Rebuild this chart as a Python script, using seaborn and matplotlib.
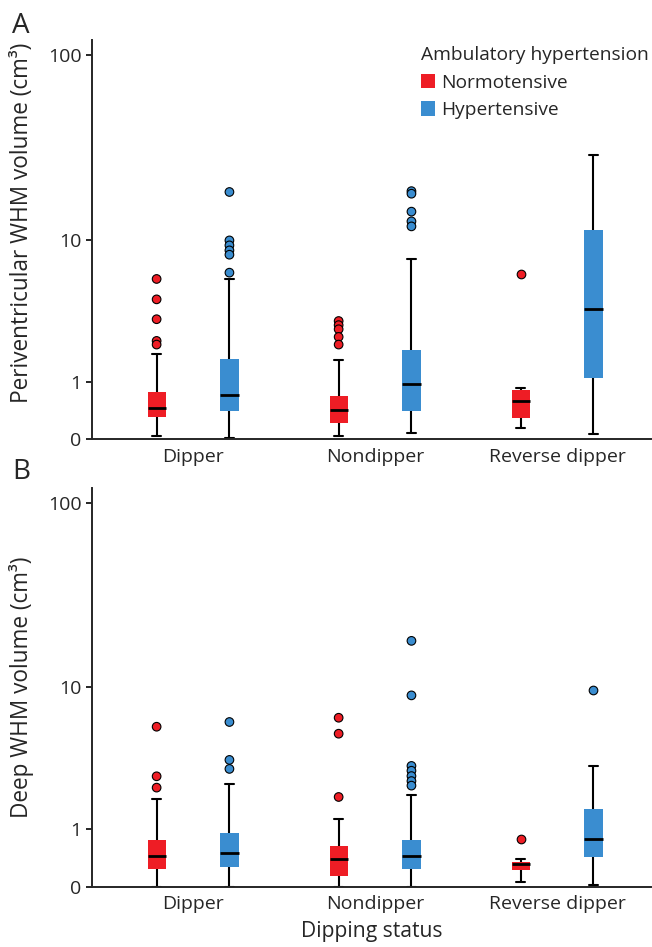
import numpy as np
import pandas as pd
import matplotlib
matplotlib.use("Agg")
import matplotlib.pyplot as plt
from matplotlib.patches import Patch
import seaborn as sns

categories = ["Dipper", "Nondipper", "Reverse dipper"]
groups = ["Normotensive", "Hypertensive"]
palette = ["#EE1D25", "#3A8DD0"]
tick_values = [0, 1, 10, 100]
tick_labels = ["0", "1", "10", "100"]

# Panel A: periventricular WHM volume (cm3)
# five-number summaries: low whisker, Q1, median, Q3, high whisker
pv_dipper_norm = [0.04, 0.31, 0.46, 0.77, 1.79]
pv_dipper_hyp = [0.01, 0.40, 0.71, 1.63, 5.85]
pv_nondipper_norm = [0.04, 0.22, 0.43, 0.69, 1.58]
pv_nondipper_hyp = [0.08, 0.40, 0.95, 1.93, 7.76]
pv_reverse_norm = [0.145, 0.29, 0.59, 0.81, 0.86]
pv_reverse_hyp = [0.07, 1.09, 3.81, 11.3, 29.5]
# outliers
pv_out_dipper_norm = [5.86, 4.37, 3.23, 2.26, 2.12]
pv_out_dipper_hyp = [18.5, 9.9, 9.27, 8.67, 8.18, 6.40]
pv_out_nondipper_norm = [3.14, 2.94, 2.75, 2.42, 2.12]
pv_out_nondipper_hyp = [18.7, 18.1, 14.4, 12.7, 11.9]
pv_out_reverse_norm = [6.28]
pv_out_reverse_hyp = []

# Panel B: deep WHM volume (cm3)
dp_dipper_norm = [0.0, 0.232, 0.451, 0.753, 1.86]
dp_dipper_hyp = [0.0, 0.267, 0.505, 0.913, 2.45]
dp_nondipper_norm = [0.0, 0.141, 0.395, 0.637, 1.26]
dp_nondipper_hyp = [0.0, 0.232, 0.451, 0.753, 2.01]
dp_reverse_norm = [0.054, 0.218, 0.318, 0.351, 0.395]
dp_reverse_hyp = [0.024, 0.424, 0.774, 1.535, 3.27]
# outliers
dp_out_dipper_norm = [5.84, 2.77, 2.29]
dp_out_dipper_hyp = [6.24, 3.59, 3.12]
dp_out_nondipper_norm = [6.62, 5.29, 1.94]
dp_out_nondipper_hyp = [18.2, 8.97, 3.27, 3.03, 2.78, 2.56, 2.37]
dp_out_reverse_norm = [0.774]
dp_out_reverse_hyp = [9.59]


def long_frame(table):
    rows = []
    for (cat, grp), vals in table.items():
        for v in vals:
            rows.append({"status": cat, "group": grp, "volume": v})
    return pd.DataFrame(rows, columns=["status", "group", "volume"])


pv_box = long_frame({
    ("Dipper", "Normotensive"): pv_dipper_norm,
    ("Dipper", "Hypertensive"): pv_dipper_hyp,
    ("Nondipper", "Normotensive"): pv_nondipper_norm,
    ("Nondipper", "Hypertensive"): pv_nondipper_hyp,
    ("Reverse dipper", "Normotensive"): pv_reverse_norm,
    ("Reverse dipper", "Hypertensive"): pv_reverse_hyp,
})
pv_out = long_frame({
    ("Dipper", "Normotensive"): pv_out_dipper_norm,
    ("Dipper", "Hypertensive"): pv_out_dipper_hyp,
    ("Nondipper", "Normotensive"): pv_out_nondipper_norm,
    ("Nondipper", "Hypertensive"): pv_out_nondipper_hyp,
    ("Reverse dipper", "Normotensive"): pv_out_reverse_norm,
    ("Reverse dipper", "Hypertensive"): pv_out_reverse_hyp,
})
dp_box = long_frame({
    ("Dipper", "Normotensive"): dp_dipper_norm,
    ("Dipper", "Hypertensive"): dp_dipper_hyp,
    ("Nondipper", "Normotensive"): dp_nondipper_norm,
    ("Nondipper", "Hypertensive"): dp_nondipper_hyp,
    ("Reverse dipper", "Normotensive"): dp_reverse_norm,
    ("Reverse dipper", "Hypertensive"): dp_reverse_hyp,
})
dp_out = long_frame({
    ("Dipper", "Normotensive"): dp_out_dipper_norm,
    ("Dipper", "Hypertensive"): dp_out_dipper_hyp,
    ("Nondipper", "Normotensive"): dp_out_nondipper_norm,
    ("Nondipper", "Hypertensive"): dp_out_nondipper_hyp,
    ("Reverse dipper", "Normotensive"): dp_out_reverse_norm,
    ("Reverse dipper", "Hypertensive"): dp_out_reverse_hyp,
})

sns.set_style("ticks")
plt.rcParams["font.family"] = ["Open Sans", "DejaVu Sans"]
plt.rcParams["axes.linewidth"] = 1.4

W, H = 652, 947
fig = plt.figure(figsize=(W / 100, H / 100), dpi=100)
axA = fig.add_axes([92 / W, 1 - 439.3 / H, 559 / W, 399.3 / H])
axB = fig.add_axes([92 / W, 1 - 886.7 / H, 559 / W, 399.0 / H])


def fwd(x):
    return np.log10(np.clip(x, -0.99, None) + 1)


def inv(y):
    return 10 ** y - 1


def draw(ax, box_df, out_df, ylabel, label_y):
    sns.boxplot(data=box_df, x="status", y="volume", hue="group",
                order=categories, hue_order=groups, palette=palette,
                saturation=1, whis=(0, 100), width=0.8, gap=0.75,
                linecolor="black", linewidth=1.5, showfliers=False,
                medianprops=dict(linewidth=2.0), legend=False, ax=ax)
    for p in ax.patches:
        p.set_linewidth(0)
    sns.stripplot(data=out_df, x="status", y="volume", hue="group",
                  order=categories, hue_order=groups, palette=palette,
                  dodge=True, jitter=False, size=6.2, edgecolor="black",
                  linewidth=0.8, legend=False, ax=ax, zorder=5)
    ax.set_yscale("function", functions=(fwd, inv))
    ax.set_ylim(0, 120)
    ax.set_yticks(tick_values, tick_labels)
    ax.minorticks_off()
    ax.set_xlim(-0.555, 2.516)
    ax.set_xlabel("")
    ax.set_ylabel(ylabel, fontsize=16.3)
    ax.yaxis.set_label_coords(-0.104, label_y)
    ax.tick_params(axis="y", labelsize=14, length=4.5, width=1.4, pad=3)
    ax.tick_params(axis="x", labelsize=14, length=0, pad=6)
    sns.despine(ax=ax)


draw(axA, pv_box, pv_out, "Periventricular WHM volume (cm³)", 0.542)
draw(axB, dp_box, dp_out, "Deep WHM volume (cm³)", 0.50)
axB.set_xlabel("Dipping status", fontsize=15.2, labelpad=6)

handles = [Patch(facecolor=c, edgecolor="none", label=g) for g, c in zip(groups, palette)]
axA.legend(handles=handles, title="Ambulatory hypertension", loc="upper left",
           bbox_to_anchor=(421 / W, 1 - 46 / H), bbox_transform=fig.transFigure,
           frameon=False, borderpad=0, borderaxespad=0, handlelength=0.75,
           handleheight=0.75, handletextpad=0.3, labelspacing=0.5,
           fontsize=13.8, title_fontsize=13.8, alignment="left")

fig.text(12 / W, 1 - 33 / H, "A", fontsize=20, va="baseline")
fig.text(12 / W, 1 - 479 / H, "B", fontsize=20, va="baseline")

fig.savefig("out.png", dpi=100)
